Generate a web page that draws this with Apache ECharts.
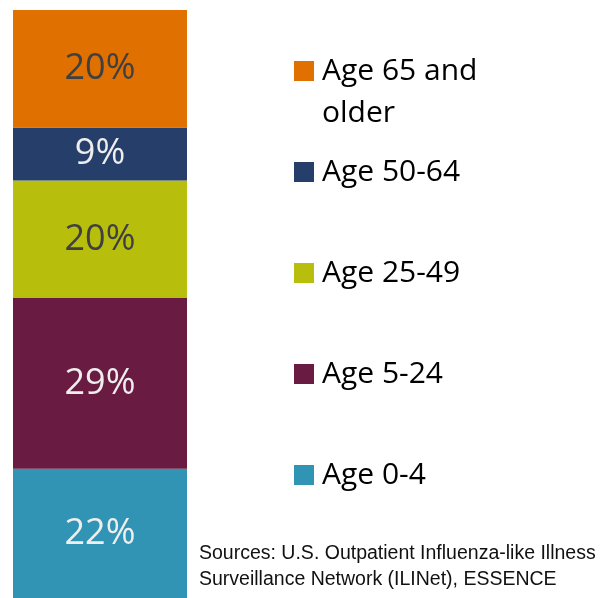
<!DOCTYPE html>
<html>
<head>
<meta charset="utf-8">
<script src="https://cdn.jsdelivr.net/npm/echarts@6/dist/echarts.min.js"></script>
<style>
  html, body { margin: 0; padding: 0; background: #fff; }
  #chart { width: 605px; height: 598px; }
</style>
</head>
<body>
<div id="chart"></div>
<script>
// share of visits by age group, one stacked bar

const groups = ['Age 0-4', 'Age 5-24', 'Age 25-49', 'Age 50-64', 'Age 65 and older'];
const shares = [22, 29, 20, 9, 20];
const colors = ['#3194B5', '#6A1B41', '#B7BF0C', '#253F6A', '#E07000'];
const labelColors = ['#EEEEEE', '#EEEEEE', '#404040', '#EEEEEE', '#404040'];
const legendCenters = [475, 374, 273, 172, 71];

const chart = echarts.init(document.getElementById('chart'));

const series = groups.map((name, i) => ({
  name: name,
  type: 'bar',
  stack: 'all',
  barWidth: '100%',
  data: [shares[i]],
  itemStyle: { color: colors[i] },
  label: {
    show: true,
    position: 'inside',
    formatter: '{c}%',
    fontFamily: 'Open Sans',
    fontSize: 36,
    color: labelColors[i]
  }
}));

// one legend per item so the rows can sit where they sit in the original
const legends = groups.map((name, i) => {
  const twoLine = name === 'Age 65 and older';
  return {
    data: [name],
    left: 294,
    top: twoLine ? legendCenters[i] - 63 : legendCenters[i] - 21,
    padding: 0,
    icon: 'rect',
    itemWidth: 20,
    itemHeight: 20,
    selectedMode: false,
    formatter: twoLine ? '\nAge 65 and\nolder' : '{name}',
    textStyle: {
      fontFamily: 'Open Sans',
      fontSize: 30,
      lineHeight: 42,
      color: '#000',
      padding: [0, 0, 0, 3]
    }
  };
});

const option = {
  animation: false,
  grid: { left: 13, right: 418, top: 10, bottom: 0 },
  xAxis: {
    type: 'category',
    data: [''],
    show: false
  },
  yAxis: {
    type: 'value',
    min: 0,
    max: 100,
    show: false
  },
  legend: legends,
  graphic: [{
    type: 'text',
    left: 199,
    top: 541,
    style: {
      text: 'Sources: U.S. Outpatient Influenza-like Illness\nSurveillance Network (ILINet), ESSENCE',
      font: '19.5px "Liberation Sans", sans-serif',
      lineHeight: 26,
      fill: '#111'
    }
  }],
  series: series
};

chart.setOption(option);
</script>
</body>
</html>
